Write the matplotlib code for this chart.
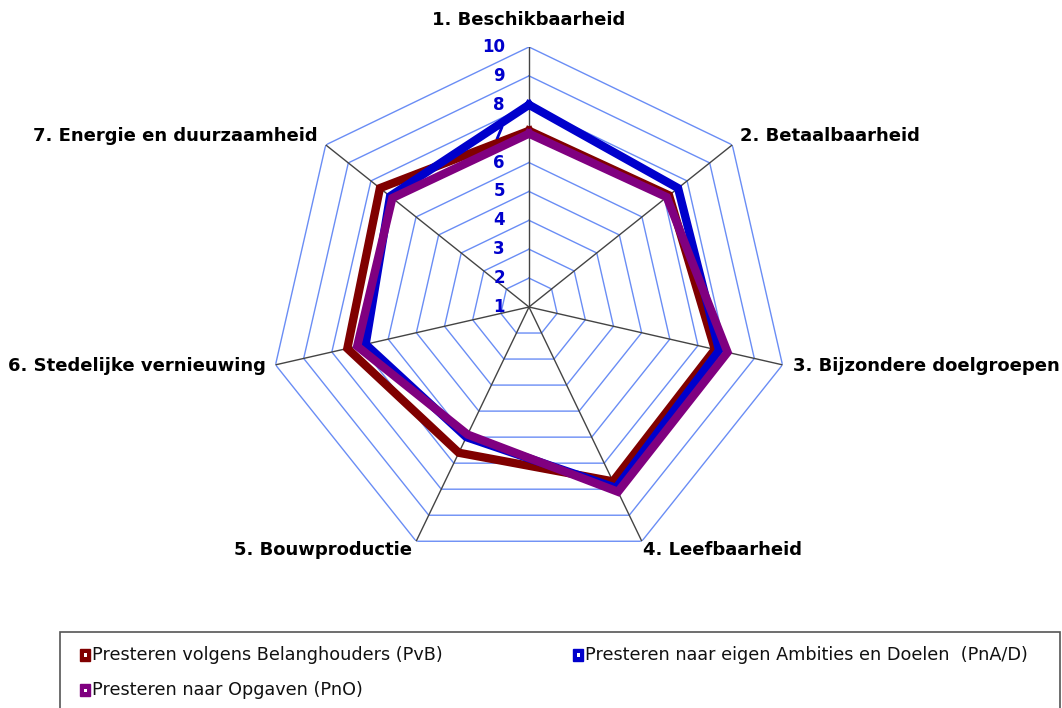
import numpy as np
import matplotlib
matplotlib.use("Agg")
import matplotlib.pyplot as plt
from matplotlib.patches import Rectangle

plt.rcParams['font.family'] = ['DejaVu Sans']

categories = ["1. Beschikbaarheid", "2. Betaalbaarheid", "3. Bijzondere doelgroepen",
              "4. Leefbaarheid", "5. Bouwproductie", "6. Stedelijke vernieuwing",
              "7. Energie en duurzaamheid"]
pvb = [7.1, 7.2, 7.6, 7.7, 6.6, 7.45, 7.6]
pna = [8.0, 7.6, 7.75, 7.95, 6.0, 6.8, 7.15]
pno = [7.0, 7.1, 8.05, 8.1, 5.9, 7.1, 7.05]
series_names = ["Presteren volgens Belanghouders (PvB)",
                "Presteren naar eigen Ambities en Doelen  (PnA/D)",
                "Presteren naar Opgaven (PnO)"]
series_colors = ["#800000", "#0000CC", "#800080"]
rticks = [1, 2, 3, 4, 5, 6, 7, 8, 9, 10]

W, H = 1062, 708
fig = plt.figure(figsize=(W / 100, H / 100), dpi=100)
cx, cy, R = 529, 307, 260
ax = fig.add_axes([(cx - R) / W, (H - cy - R) / H, 2 * R / W, 2 * R / H], projection='polar')
ax.set_theta_zero_location('N')
ax.set_theta_direction(-1)
ax.set_ylim(rticks[0], rticks[-1])
ax.grid(False)
ax.spines['polar'].set_visible(False)
ax.set_xticks([])
ax.set_yticks([])
ax.patch.set_alpha(0)

n = len(categories)
theta = np.arange(n) * 2 * np.pi / n
tc = np.append(theta, theta[0])

# polygon grid rings
for k in rticks[1:]:
    ax.plot(tc, [k] * (n + 1), color='#6A8DF5', lw=1.0, zorder=1)
# spokes
for t in theta:
    ax.plot([t, t], [rticks[0], rticks[-1]], color='#444444', lw=1.0, zorder=2)

for vals, col in zip([pvb, pna, pno], series_colors):
    ax.plot(tc, vals + [vals[0]], color=col, lw=6.0, zorder=3, solid_joinstyle='miter')

# radial tick labels
for k in rticks:
    ax.annotate(str(k), xy=(0, k), xytext=(-24, 0), textcoords='offset pixels',
                ha='right', va='center', color='#0000CC', fontsize=12,
                fontweight='bold', zorder=5)

# category labels
offsets = [(0, 27, 'center'), (8, 9, 'left'), (11, -1, 'left'), (1, -9, 'left'),
           (-4, -9, 'right'), (-10, -1, 'right'), (-8, 9, 'right')]
for t, lab, (dx, dy, ha) in zip(theta, categories, offsets):
    ax.annotate(lab, xy=(t, rticks[-1]), xytext=(dx, dy), textcoords='offset pixels',
                ha=ha, va='center', fontsize=13, fontweight='bold', color='black',
                annotation_clip=False)

# legend (manual box)
def fx(x):
    return x / W

def fy(y):
    return 1 - y / H

fig.add_artist(Rectangle((fx(60), fy(740)), fx(1060) - fx(60), fy(632) - fy(740),
                         transform=fig.transFigure, fill=False, edgecolor='#555555', lw=1.2))
leg_pos = [(85, 655), (578, 655), (85, 690)]
for (x, y), name, col in zip(leg_pos, series_names, series_colors):
    fig.add_artist(Rectangle((fx(x - 5), fy(y + 6)), fx(10), fy(y - 6) - fy(y + 6),
                             transform=fig.transFigure, facecolor=col, edgecolor=col, lw=1))
    fig.add_artist(Rectangle((fx(x - 1.5), fy(y + 1.5)), fx(3), fy(y - 1.5) - fy(y + 1.5),
                             transform=fig.transFigure, facecolor='white', edgecolor='none'))
    fig.text(fx(x + 7), fy(y), name, ha='left', va='center', fontsize=12.7, color='#111111')

fig.savefig("out.png", dpi=100)
